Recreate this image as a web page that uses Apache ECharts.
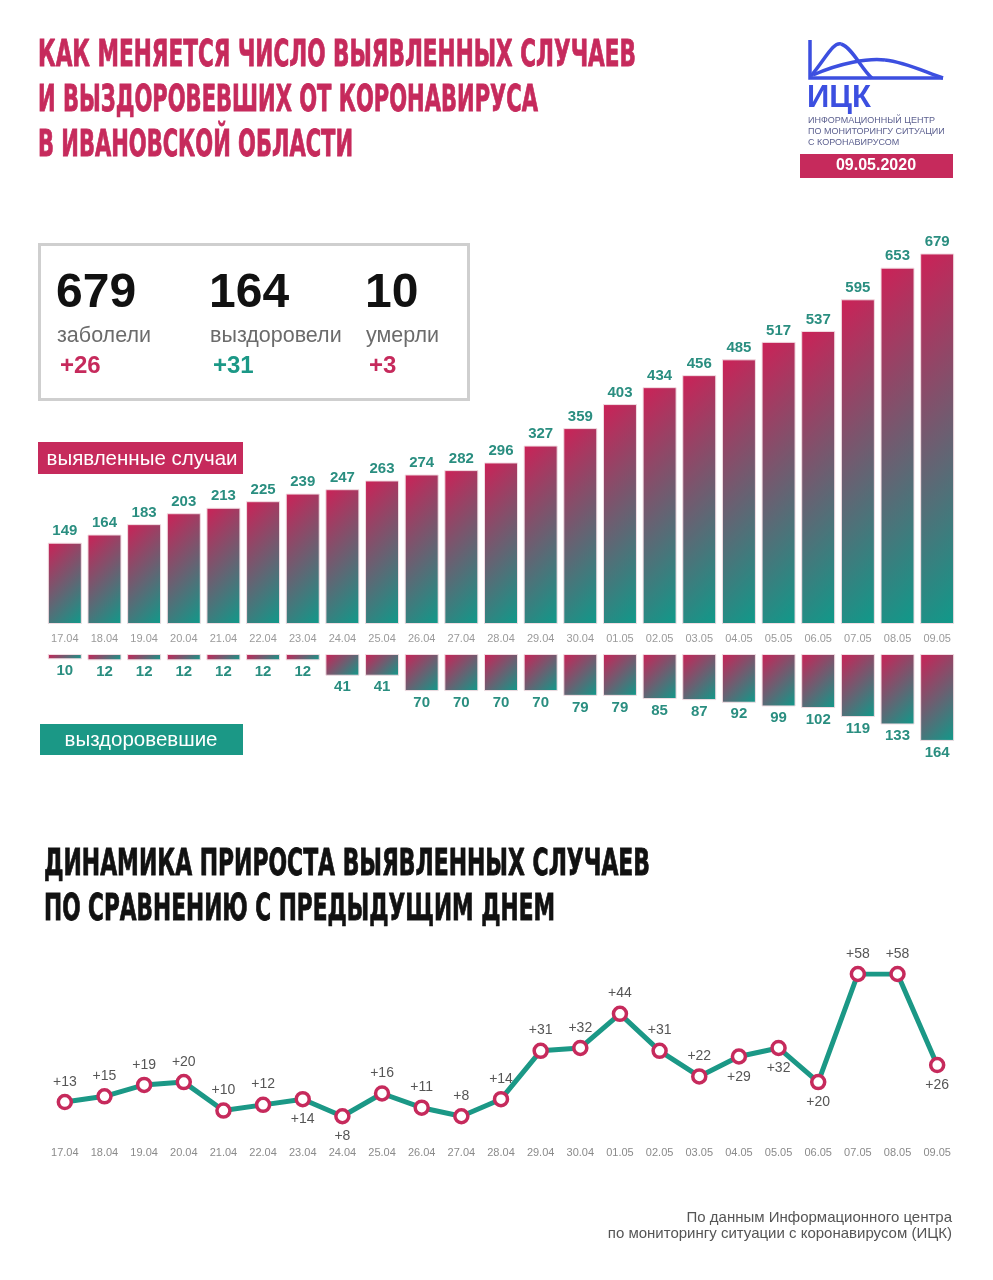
<!DOCTYPE html>
<html>
<head>
<meta charset="utf-8">
<script src="https://cdn.jsdelivr.net/npm/echarts@6/dist/echarts.min.js"></script>
<style>
html,body{margin:0;padding:0;background:#fff;}
#c{width:993px;height:1280px;}
</style>
</head>
<body>
<div id="c"></div>
<script>
// ---- data ----
const dates = ['17.04','18.04','19.04','20.04','21.04','22.04','23.04','24.04','25.04','26.04','27.04','28.04','29.04','30.04','01.05','02.05','03.05','04.05','05.05','06.05','07.05','08.05','09.05'];
const cases = [149,164,183,203,213,225,239,247,263,274,282,296,327,359,403,434,456,485,517,537,595,653,679];
const recovered = [10,12,12,12,12,12,12,41,41,70,70,70,70,79,79,85,87,92,99,102,119,133,164];
const increments = [13,15,19,20,10,12,14,8,16,11,8,14,31,32,44,31,22,29,32,20,58,58,26];
const statNumbers = ['679','164','10'];
const statLabels = ['заболели','выздоровели','умерли'];
const statDeltas = ['+26','+31','+3'];
const titleLines = ['КАК МЕНЯЕТСЯ ЧИСЛО ВЫЯВЛЕННЫХ СЛУЧАЕВ','И ВЫЗДОРОВЕВШИХ ОТ КОРОНАВИРУСА','В ИВАНОВСКОЙ ОБЛАСТИ'];
const title2Lines = ['ДИНАМИКА ПРИРОСТА ВЫЯВЛЕННЫХ СЛУЧАЕВ','ПО СРАВНЕНИЮ С ПРЕДЫДУЩИМ ДНЕМ'];
const logoLines = ['ИНФОРМАЦИОННЫЙ ЦЕНТР','ПО МОНИТОРИНГУ СИТУАЦИИ','С КОРОНАВИРУСОМ'];
const reportDate = '09.05.2020';
const footerLines = ['По данным Информационного центра','по мониторингу ситуации с коронавирусом (ИЦК)'];
// label placement (style): categories whose increment label sits below the point
const belowLabels = ['23.04','24.04','04.05','05.05','06.05','09.05'];

// ---- styles ----
const CRIMSON = '#c62a5c';
const TEAL = '#1b9886';
const LABEL_TEAL = '#2a8e80';
const BLUE = '#3c4fe0';
const condFont = '"DejaVu Sans Condensed", "Liberation Sans Narrow", sans-serif';
const sans = '"Liberation Sans", Arial, Helvetica, sans-serif';

function measure(text, font){
  const ctx = document.createElement('canvas').getContext('2d');
  ctx.font = font;
  return ctx.measureText(text).width;
}
const titleFont = 'bold 37px ' + condFont;
const titleWidths = [598, 500, 315];
const title2Widths = [606, 511];

const gridLeft = 45, gridWidth = 912;
const topGrid = {top: 242, height: 382, max: 700};
const botGrid = {top: 654, height: 106, max: 200};
const BAR_W = 34;

// 45-degree diagonal gradient (top-left crimson -> bottom-right teal), per bar size
function barGradient(v, g){
  const w = BAR_W;
  const h = Math.max(v * g.height / g.max, 1);
  return new echarts.graphic.LinearGradient(0, 0, (w + h) / (2 * w), (w + h) / (2 * h), [
    {offset: 0, color: '#cc2157'},
    {offset: 1, color: '#0f9a8a'}
  ]);
}

const graphics = [];
// main title
titleLines.forEach((t, i) => {
  graphics.push({type:'text', x:38, y:56 + i*45, scaleX:titleWidths[i] / measure(t, titleFont), scaleY:1,
    style:{text:t, x:0, y:0, font:titleFont, fill:CRIMSON, stroke:CRIMSON, lineWidth:0.8, textVerticalAlign:'middle', textAlign:'left'}});
});
// second title
title2Lines.forEach((t, i) => {
  graphics.push({type:'text', x:44, y:865 + i*45, scaleX:title2Widths[i] / measure(t, titleFont), scaleY:1,
    style:{text:t, x:0, y:0, font:titleFont, fill:'#111', stroke:'#111', lineWidth:0.8, textVerticalAlign:'middle', textAlign:'left'}});
});
// logo
const logoStroke = {stroke:BLUE, lineWidth:3.5, fill:null};
graphics.push({type:'polyline', shape:{points:[[810,40],[810,78],[943,78]]}, style:logoStroke});
graphics.push({type:'bezierCurve', shape:{x1:811,y1:76,cpx1:826,cpy1:58,cpx2:833,cpy2:42,x2:841,y2:44}, style:logoStroke});
graphics.push({type:'bezierCurve', shape:{x1:841,y1:44,cpx1:852,cpy1:47,cpx2:862,cpy2:70,x2:872,y2:78}, style:logoStroke});
graphics.push({type:'bezierCurve', shape:{x1:813,y1:75,cpx1:840,cpy1:63,cpx2:868,cpy2:58,x2:885,y2:60}, style:logoStroke});
graphics.push({type:'bezierCurve', shape:{x1:885,y1:60,cpx1:905,cpy1:62,cpx2:925,cpy2:72,x2:943,y2:78}, style:logoStroke});
graphics.push({type:'text', x:807, y:98, style:{text:'ИЦК', font:'bold 31px ' + sans, fill:BLUE, textVerticalAlign:'middle'}});
logoLines.forEach((t, i) => {
  graphics.push({type:'text', x:808, y:121 + i*11, style:{text:t, font:'9px ' + sans, fill:'#5d6190', textVerticalAlign:'middle'}});
});
graphics.push({type:'rect', shape:{x:800, y:154, width:153, height:24}, style:{fill:CRIMSON}});
graphics.push({type:'text', x:876, y:166, style:{text:reportDate, font:'bold 16px ' + sans, fill:'#fff', textAlign:'center', textVerticalAlign:'middle'}});

// stats box
graphics.push({type:'rect', shape:{x:39.5, y:244.5, width:429, height:155}, style:{fill:'#fff', stroke:'#cfcfcf', lineWidth:3}});
const statX = [56, 209, 365];
statNumbers.forEach((n, i) => {
  graphics.push({type:'text', x:statX[i], y:294, style:{text:n, font:'bold 48px ' + sans, fill:'#111', textVerticalAlign:'middle'}});
  graphics.push({type:'text', x:statX[i] + 1, y:336, style:{text:statLabels[i], font:'21.5px ' + sans, fill:'#6b6b6b', textVerticalAlign:'middle'}});
  graphics.push({type:'text', x:statX[i] + 4, y:366, style:{text:statDeltas[i], font:'bold 24px ' + sans, fill:i === 1 ? TEAL : CRIMSON, textVerticalAlign:'middle'}});
});

// section labels
graphics.push({type:'rect', shape:{x:38, y:442, width:205, height:32}, style:{fill:CRIMSON}});
graphics.push({type:'text', x:142, y:459, style:{text:'выявленные случаи', font:'20.5px ' + sans, fill:'#fff', textAlign:'center', textVerticalAlign:'middle'}});
graphics.push({type:'rect', shape:{x:40, y:724, width:203, height:31}, style:{fill:TEAL}});
graphics.push({type:'text', x:141, y:740, style:{text:'выздоровевшие', font:'20.5px ' + sans, fill:'#fff', textAlign:'center', textVerticalAlign:'middle'}});

// footer
footerLines.forEach((t, i) => {
  graphics.push({type:'text', x:952, y:1218 + i*16, style:{text:t, font:'15px ' + sans, fill:'#555', textAlign:'right', textVerticalAlign:'middle'}});
});

const option = {
  backgroundColor: '#fff',
  animation: false,
  graphic: graphics,
  grid: [
    {left: gridLeft, width: gridWidth, top: topGrid.top, height: topGrid.height},
    {left: gridLeft, width: gridWidth, top: botGrid.top, height: botGrid.height},
    {left: gridLeft, width: gridWidth, top: 974, height: 165}
  ],
  xAxis: [
    {type:'category', gridIndex:0, data:dates, axisLine:{show:false}, axisTick:{show:false},
     axisLabel:{color:'#9a9a9a', fontSize:11, fontFamily:sans, margin:9}},
    {type:'category', gridIndex:1, data:dates, show:false},
    {type:'category', gridIndex:2, data:dates, axisLine:{show:false}, axisTick:{show:false},
     axisLabel:{color:'#8a8a8a', fontSize:11, fontFamily:sans, margin:8}}
  ],
  yAxis: [
    {type:'value', gridIndex:0, min:0, max:topGrid.max, show:false, splitLine:{show:false}},
    {type:'value', gridIndex:1, min:0, max:botGrid.max, inverse:true, show:false, splitLine:{show:false}},
    {type:'value', gridIndex:2, min:0, max:58, show:false, splitLine:{show:false}}
  ],
  series: [
    {type:'bar', xAxisIndex:0, yAxisIndex:0, barWidth:BAR_W,
     data: cases.map(v => ({value: v, itemStyle: {color: barGradient(v, topGrid)}})),
     itemStyle:{borderColor:'#f2dde3', borderWidth:1},
     label:{show:true, position:'top', distance:4, color:LABEL_TEAL, fontWeight:'bold', fontSize:15, fontFamily:sans}},
    {type:'bar', xAxisIndex:1, yAxisIndex:1, barWidth:BAR_W,
     data: recovered.map(v => ({value: v, itemStyle: {color: barGradient(v, botGrid)}})),
     itemStyle:{borderColor:'#f2dde3', borderWidth:1},
     label:{show:true, position:'bottom', distance:4, color:LABEL_TEAL, fontWeight:'bold', fontSize:15, fontFamily:sans}},
    {type:'line', xAxisIndex:2, yAxisIndex:2,
     data: increments.map((v, i) => ({
       value: v,
       label: {position: belowLabels.includes(dates[i]) ? 'bottom' : 'top'}
     })),
     symbol:'circle', symbolSize:13,
     lineStyle:{color:TEAL, width:5},
     itemStyle:{color:'#fff', borderColor:CRIMSON, borderWidth:3.5},
     label:{show:true, distance:5, color:'#555', fontSize:14, fontFamily:sans, formatter: p => '+' + p.value}}
  ]
};

const chart = echarts.init(document.getElementById('c'));
chart.setOption(option);
</script>
</body>
</html>
